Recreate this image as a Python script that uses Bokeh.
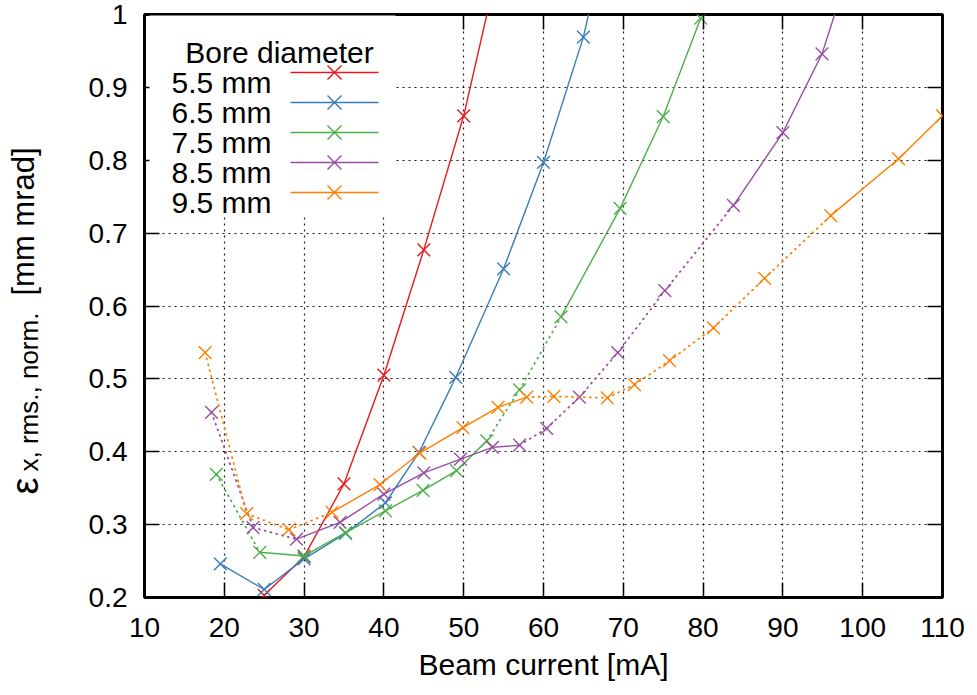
import numpy as np
from bokeh.plotting import figure
from bokeh.layouts import row
from bokeh.core.properties import value
from bokeh.models import (Range1d, LinearAxis, FixedTicker, ColumnDataSource,
                          Label, BoxAnnotation, PolyAnnotation)
from bokeh.embed import file_html
from bokeh.resources import INLINE

# ---------------- data ----------------
x_ticks = [10, 20, 30, 40, 50, 60, 70, 80, 90, 100, 110]
y_ticks = [0.2, 0.3, 0.4, 0.5, 0.6, 0.7, 0.8, 0.9, 1.0]
y_tick_labels = ["0.2", "0.3", "0.4", "0.5", "0.6", "0.7", "0.8", "0.9", "1"]

series_names = ["5.5 mm", "6.5 mm", "7.5 mm", "8.5 mm", "9.5 mm"]
series_colors = ["#e41a1c", "#377eb8", "#4daf4a", "#984ea3", "#ff7f00"]

bore55_x = [25.0, 30.0, 35.0, 40.0, 45.0, 50.0, 55.0]
bore55_y = [0.203, 0.256, 0.356, 0.505, 0.677, 0.861, 1.10]
bore55_dotted = []

bore65_x = [19.5, 25.0, 30.0, 35.2, 40.2, 44.4, 49.0, 55.0, 60.0, 65.0, 70.0]
bore65_y = [0.246, 0.211, 0.253, 0.288, 0.330, 0.399, 0.502, 0.651, 0.797, 0.969, 1.21]
bore65_dotted = []

bore75_x = [19.0, 24.45, 30.0, 35.2, 40.2, 44.9, 49.1, 52.9, 57.0, 62.2, 69.6, 75.0, 79.7]
bore75_y = [0.369, 0.262, 0.257, 0.289, 0.319, 0.347, 0.374, 0.415, 0.485, 0.585, 0.734, 0.860, 0.995]
bore75_dotted = [0, 7, 8]

bore85_x = [18.4, 23.6, 29.05, 34.5, 40.0, 45.0, 49.6, 53.6, 57.0, 60.4, 64.5, 69.3, 75.2,
            83.8, 90.0, 94.9, 100.0]
bore85_y = [0.454, 0.296, 0.280, 0.303, 0.342, 0.371, 0.390, 0.406, 0.409, 0.432, 0.475,
            0.536, 0.621, 0.738, 0.838, 0.946, 1.12]
bore85_dotted = [0, 1, 8, 9, 10, 11, 12]

bore95_x = [17.6, 22.8, 28.1, 33.5, 39.5, 44.5, 49.9, 54.3, 57.9, 61.3, 68.0, 71.4, 75.8,
            81.3, 87.7, 96.0, 104.5, 110.0]
bore95_y = [0.536, 0.315, 0.293, 0.317, 0.355, 0.398, 0.433, 0.461, 0.475, 0.476, 0.474,
            0.492, 0.525, 0.570, 0.638, 0.724, 0.802, 0.861]
bore95_dotted = [0, 1, 2, 8, 9, 10, 11, 12, 13, 14]

series = [
    (bore55_x, bore55_y, bore55_dotted),
    (bore65_x, bore65_y, bore65_dotted),
    (bore75_x, bore75_y, bore75_dotted),
    (bore85_x, bore85_y, bore85_dotted),
    (bore95_x, bore95_y, bore95_dotted),
]

y_title_parts = ["ε", "x, rms., norm.", "[mm mrad]"]

FONT = "Liberation Sans"
FS_TICK = "28px"
FS = "30px"

SIDE_W = 60          # width of the strip holding the rotated y title
TOTAL_W, TOTAL_H = 977, 695

# ---------------- main figure ----------------
p = figure(width=TOTAL_W - SIDE_W, height=TOTAL_H, output_backend="svg",
           toolbar_location=None,
           x_range=Range1d(10, 110), y_range=Range1d(0.2, 1.0),
           min_border_left=144 - SIDE_W, min_border_right=35, min_border_top=14,
           min_border_bottom=98)
p.frame_align = False
p.background_fill_color = "white"
p.border_fill_color = "white"
p.outline_line_color = "black"
p.outline_line_width = 3

for ax in (p.xaxis[0], p.yaxis[0]):
    ax.axis_line_color = None
    ax.major_tick_in = 15
    ax.major_tick_out = 0
    ax.major_tick_line_color = "black"
    ax.major_tick_line_width = 1.5
    ax.minor_tick_line_color = None
    ax.major_label_text_font = FONT
    ax.major_label_text_font_size = FS_TICK
    ax.major_label_text_color = "black"

p.xaxis.ticker = FixedTicker(ticks=x_ticks)
p.yaxis.ticker = FixedTicker(ticks=y_ticks)
p.yaxis.major_label_overrides = {t: l for t, l in zip(y_ticks, y_tick_labels)}
p.xaxis.major_label_standoff = 20
p.yaxis.major_label_standoff = 17
p.xaxis.axis_label = "Beam current [mA]"
p.xaxis.axis_label_text_font = FONT
p.xaxis.axis_label_text_font_size = FS
p.xaxis.axis_label_text_font_style = "normal"
p.xaxis.axis_label_text_color = "black"
p.xaxis.axis_label_standoff = 8

# mirrored ticks on top and right
for loc, tk in (("above", x_ticks), ("right", y_ticks)):
    ax = LinearAxis(ticker=FixedTicker(ticks=tk))
    ax.axis_line_color = None
    ax.major_tick_in = 15
    ax.major_tick_out = 0
    ax.major_tick_line_color = "black"
    ax.major_tick_line_width = 1.5
    ax.minor_tick_line_color = None
    ax.major_label_overrides = {t: "" for t in tk}
    ax.major_label_text_font_size = "0px"
    ax.major_label_standoff = 0
    p.add_layout(ax, loc)

p.xgrid.ticker = FixedTicker(ticks=x_ticks)
p.ygrid.ticker = FixedTicker(ticks=y_ticks)
for g in (p.xgrid[0], p.ygrid[0]):
    g.grid_line_color = "black"
    g.grid_line_dash = "2 4"
    g.grid_line_width = 1.2
    g.grid_line_alpha = 0.9

# ---------------- data lines ----------------
for (xs, ys, dotted), c in zip(series, series_colors):
    solid = dict(x0=[], y0=[], x1=[], y1=[])
    dots = dict(x0=[], y0=[], x1=[], y1=[])
    for i in range(len(xs) - 1):
        d = dots if i in dotted else solid
        d["x0"].append(xs[i]); d["y0"].append(ys[i])
        d["x1"].append(xs[i + 1]); d["y1"].append(ys[i + 1])
    p.segment("x0", "y0", "x1", "y1", source=ColumnDataSource(solid),
              line_color=c, line_width=1.4)
    p.segment("x0", "y0", "x1", "y1", source=ColumnDataSource(dots),
              line_color=c, line_width=1.8, line_dash="1 5", line_cap="round")
    p.scatter(xs, ys, marker="x", size=18, line_color=c, line_width=1.4)

# ---------------- legend (text left, sample right, like gnuplot) ----------------
ox = -SIDE_W  # canvas x offset of the main figure inside the page
p.add_layout(BoxAnnotation(left=149 + ox, right=395 + ox, top=15, bottom=214,
                           left_units="canvas", right_units="canvas",
                           top_units="canvas", bottom_units="canvas",
                           fill_color="white", fill_alpha=1.0, line_color=None))
p.add_layout(Label(x=279 + ox, y=52, x_units="canvas", y_units="canvas",
                   text="Bore diameter", text_align="center",
                   text_baseline="alphabetic", text_font=FONT,
                   text_font_size=FS, text_color="black"))
for i, (name, c) in enumerate(zip(series_names, series_colors)):
    yb = 82 + 30 * i
    ym = 72 + 30 * i
    p.add_layout(Label(x=271 + ox, y=yb, x_units="canvas", y_units="canvas",
                       text=name, text_align="right", text_baseline="alphabetic",
                       text_font=FONT, text_font_size=FS, text_color="black"))
    p.add_layout(PolyAnnotation(xs=[290 + ox, 378 + ox], ys=[ym, ym],
                                xs_units="canvas", ys_units="canvas",
                                fill_color=None, fill_alpha=0,
                                line_color=c, line_alpha=1.0, line_width=1.4))
    for dy in (-7, 7):
        p.add_layout(PolyAnnotation(xs=[327 + ox, 341 + ox], ys=[ym - dy, ym + dy],
                                    xs_units="canvas", ys_units="canvas",
                                    fill_color=None, fill_alpha=0,
                                    line_color=c, line_alpha=1.0, line_width=1.4))

# ---------------- side strip with the rotated y title ----------------
s = figure(width=SIDE_W, height=TOTAL_H, output_backend="svg", toolbar_location=None,
           x_range=Range1d(0, SIDE_W), y_range=Range1d(0, TOTAL_H),
           x_axis_location=None, y_axis_location=None,
           min_border=0, min_border_left=0, min_border_right=0,
           min_border_top=0, min_border_bottom=0)
s.frame_align = False
s.outline_line_color = None
s.background_fill_color = "white"
s.border_fill_color = "white"
s.xgrid.visible = False
s.ygrid.visible = False

# (baseline x, start y from top, font size) for each part of the title
title_pos = [(24, 494, "38px"), (28, 471, "26px"), (23, 295, "31px")]
for txt, (tx, ty, fs) in zip(y_title_parts, title_pos):
    s.text(x=[tx], y=[TOTAL_H - ty], text=[txt], angle=np.pi / 2,
           text_align="left", text_baseline="alphabetic",
           text_font=value(FONT), text_font_size=value(fs), text_color="black")

layout = row(s, p, spacing=0)
open("out.html", "w").write(file_html(layout, INLINE))
